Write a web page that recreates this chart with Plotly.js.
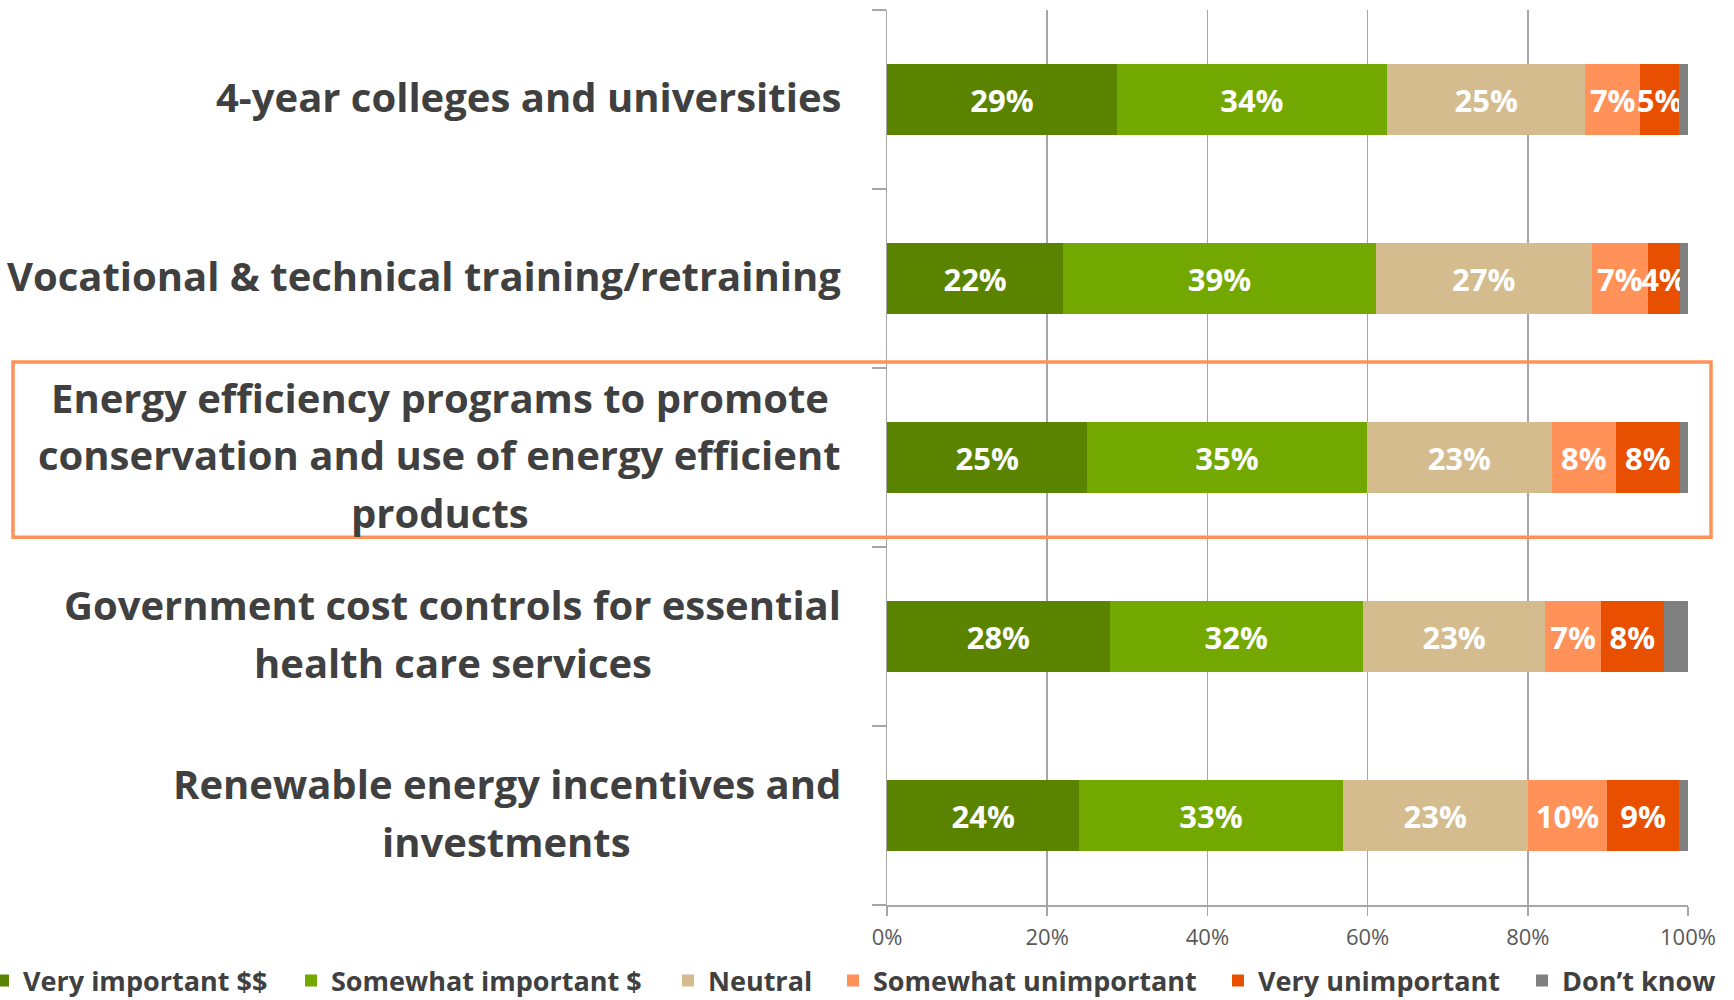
<!DOCTYPE html>
<html>
<head>
<meta charset="utf-8">
<script src="https://cdn.plot.ly/plotly-3.0.1.min.js"></script>
<style>html,body{margin:0;padding:0;background:#fff;}#chart{width:1734px;height:1000px;}</style>
</head>
<body>
<div id="chart"></div>
<script>
const categories = [
  "4-year colleges and universities",
  "Vocational & technical training/retraining",
  "Energy efficiency programs to promote<br>conservation and use of energy efficient<br>products",
  "Government cost controls for essential<br>health care services",
  "Renewable energy incentives and<br>investments"
];
const seriesNames = ["Very important $$", "Somewhat important $", "Neutral", "Somewhat unimportant", "Very unimportant", "Don\u2019t know"];
const veryImportant      = [28.7, 22.0, 25.0, 27.8, 24.0];
const somewhatImportant  = [33.7, 39.0, 34.9, 31.6, 32.9];
const neutral            = [24.8, 27.0, 23.1, 22.8, 23.1];
const somewhatUnimportant= [6.8, 7.0, 8.0, 6.9, 9.9];
const veryUnimportant    = [4.9, 4.0, 8.0, 7.9, 9.0];
const dontKnow           = [1.1, 1.0, 1.0, 3.0, 1.1];
const xTickVals = [0, 20, 40, 60, 80, 100];
const xTickText = ["0%", "20%", "40%", "60%", "80%", "100%"];
const highlighted = 2;

const colors = ["#5a8400", "#72a800", "#d4bc8f", "#ff9159", "#e85000", "#808080"];
const allSeries = [veryImportant, somewhatImportant, neutral, somewhatUnimportant, veryUnimportant, dontKnow];
const FONT = "'Open Sans', Lato, sans-serif";
const textColor = "#404040";

// plot-area geometry (px) used to place layout items
const W = 1734, H = 1000, L = 887, R = 46, T = 10, B = 95;
const PW = W - L - R, PH = H - T - B;
const px2x = p => (p - L) / PW;
const legendTextStarts = [24, 332, 709, 874, 1259, 1563];
const legendNames = ["legend", "legend2", "legend3", "legend4", "legend5", "legend6"];

const yIdx = categories.map((c, i) => i);
const traces = allSeries.map((vals, k) => ({
  type: "bar",
  orientation: "h",
  name: seriesNames[k],
  legend: legendNames[k],
  x: vals,
  y: yIdx,
  marker: {color: colors[k], line: {width: 0}},
  text: k < 5 ? vals.map(v => Math.round(v) + "%") : undefined,
  textposition: k < 5 ? "inside" : "none",
  insidetextanchor: "middle",
  textangle: 0,
  textfont: {family: FONT, size: 31, color: "#ffffff", weight: "bold"},
  hoverinfo: "skip"
}));

// category labels: centered multi-line blocks, right edge at labelRight
const LABEL_SIZE = 40, LINE_GAP = 57.5, labelRight = 841;
const ctx = document.createElement("canvas").getContext("2d");
ctx.font = "bold " + LABEL_SIZE + "px 'Open Sans'";
const annotations = [];
categories.forEach((c, i) => {
  const lines = c.split("<br>");
  const maxW = Math.max(...lines.map(s => ctx.measureText(s).width));
  const centerPx = labelRight - maxW / 2;
  lines.forEach((s, j) => {
    annotations.push({
      text: s,
      xref: "paper", yref: "y",
      x: px2x(centerPx), y: i,
      xanchor: "center", yanchor: "middle",
      yshift: ((lines.length - 1) / 2 - j) * LINE_GAP + 3,
      showarrow: false,
      font: {family: FONT, size: LABEL_SIZE, color: textColor, weight: "bold"}
    });
  });
});

const layout = {
  width: W, height: H,
  margin: {l: L, r: R, t: T, b: B, autoexpand: false},
  paper_bgcolor: "#ffffff", plot_bgcolor: "#ffffff",
  barmode: "stack",
  bargap: 0.605,
  showlegend: true,
  uniformtext: {mode: "show", minsize: 31},
  xaxis: {
    range: [0, 100],
    tickvals: xTickVals, ticktext: xTickText,
    showgrid: true, gridcolor: "#a6a6a6", gridwidth: 1.5,
    zeroline: false,
    showline: true, linecolor: "#a6a6a6", linewidth: 1.5,
    ticks: "outside", ticklen: 9, tickcolor: "#a6a6a6", tickwidth: 1.5,
    ticklabelstandoff: 3,
    tickfont: {family: FONT, size: 22, color: "#595959"},
    fixedrange: true
  },
  yaxis: {
    type: "linear",
    range: [4.5, -0.5],
    tickvals: [-0.5, 0.5, 1.5, 2.5, 3.5, 4.5],
    ticktext: ["", "", "", "", "", ""],
    ticks: "outside", ticklen: 14, tickcolor: "#a6a6a6", tickwidth: 1.5,
    showgrid: false, zeroline: false,
    showline: true, linecolor: "#a6a6a6", linewidth: 1.5,
    fixedrange: true
  },
  annotations: annotations,
  shapes: [{
    type: "rect",
    xref: "paper", yref: "y",
    x0: px2x(13), x1: px2x(1711),
    y0: highlighted - 0.534, y1: highlighted + 0.445,
    line: {color: "#ff9159", width: 3.5},
    fillcolor: "rgba(0,0,0,0)"
  }]
};

legendNames.forEach((ln, k) => {
  layout[ln] = {
    orientation: "h",
    x: px2x(legendTextStarts[k] - 41), xanchor: "left",
    y: -(981 - (T + PH)) / PH, yanchor: "middle",
    font: {family: FONT, size: 27, color: textColor, weight: "bold"},
    bgcolor: "rgba(0,0,0,0)",
    itemclick: false, itemdoubleclick: false
  };
});

Plotly.newPlot("chart", traces, layout, {displayModeBar: false, staticPlot: true});
</script>
</body>
</html>
